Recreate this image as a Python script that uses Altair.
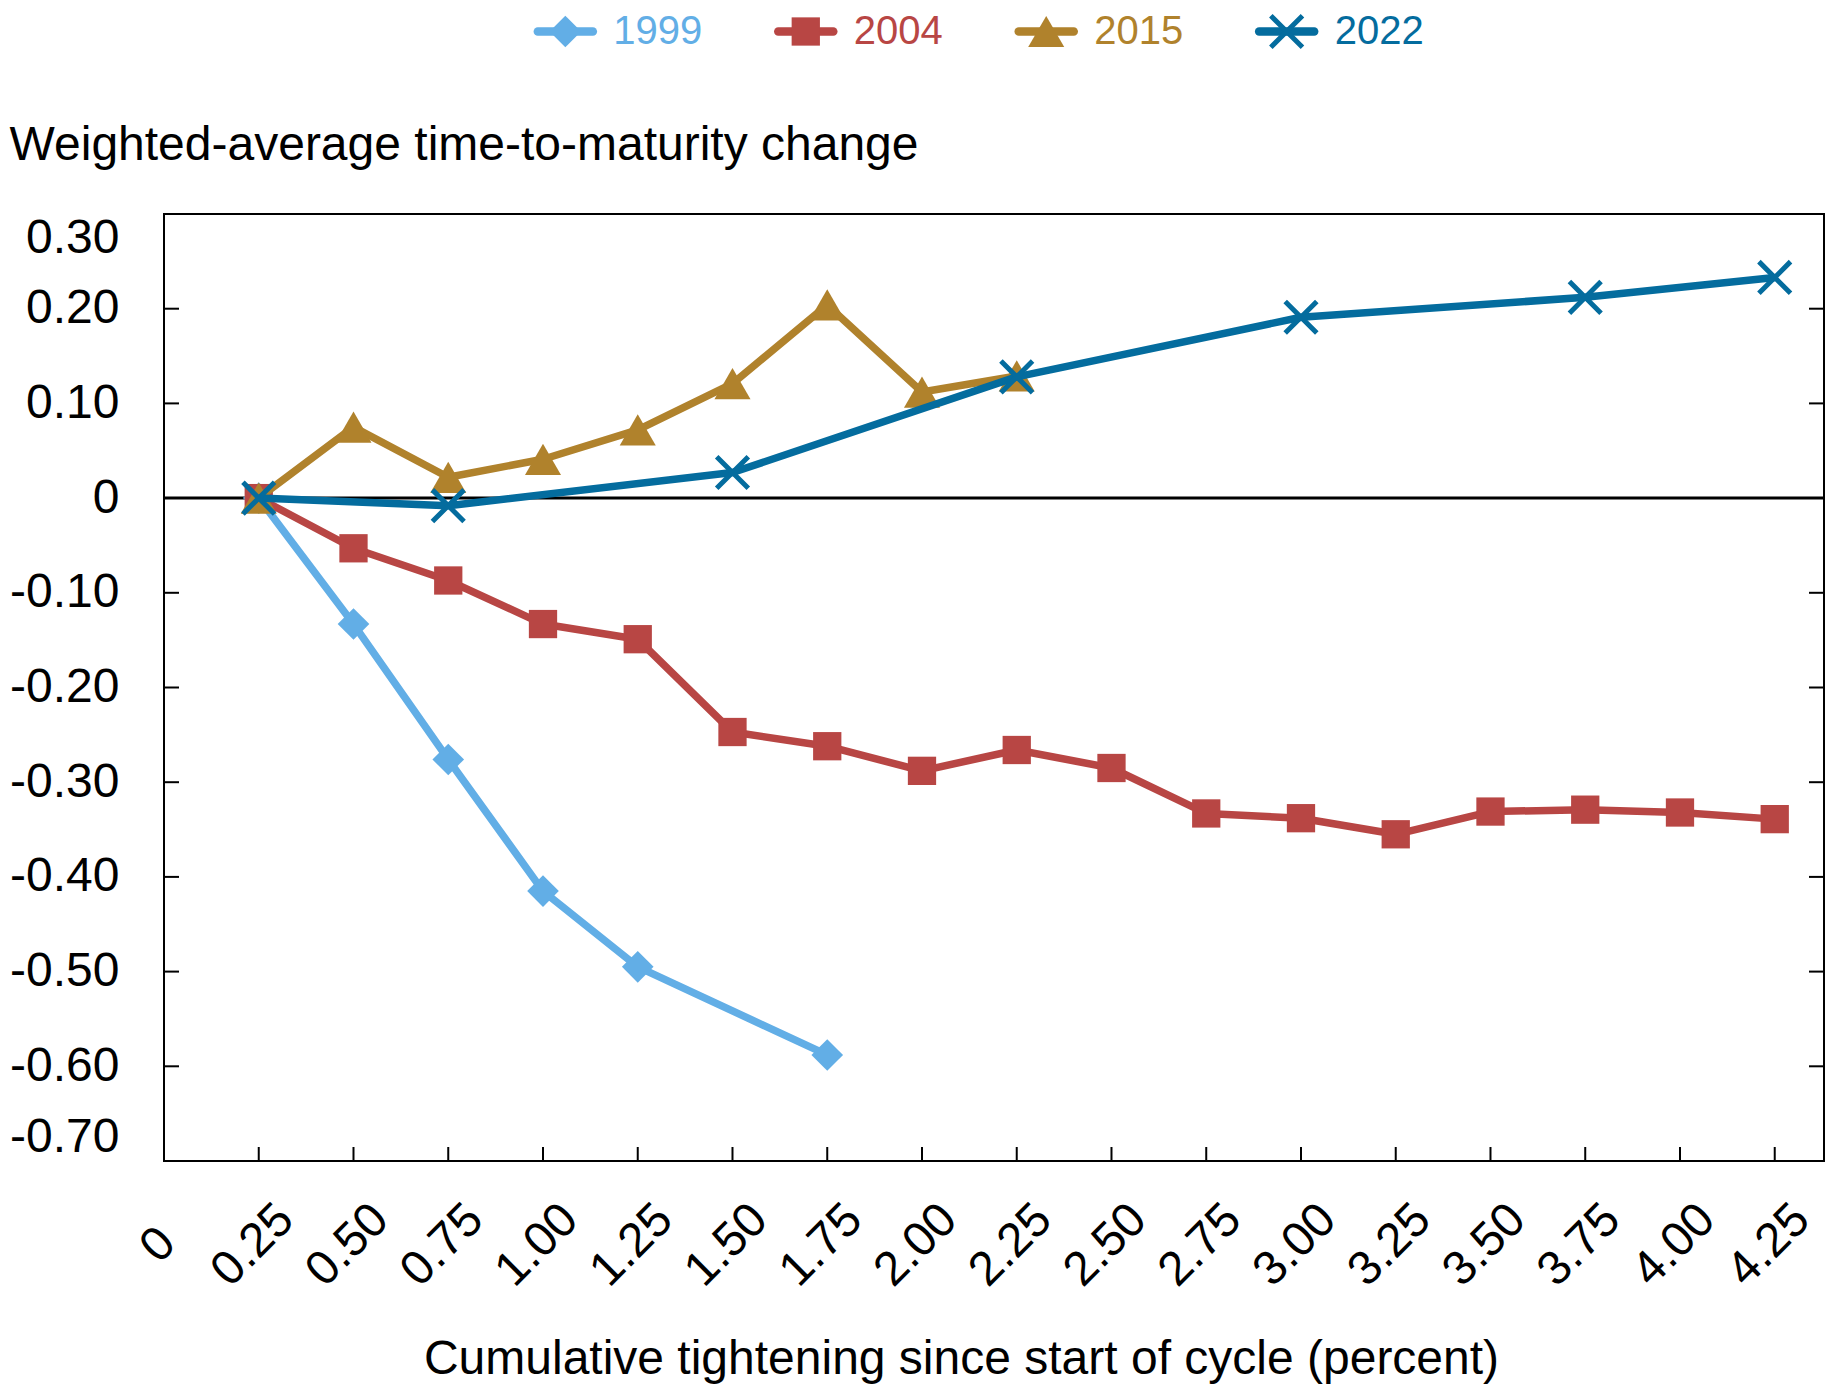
import altair as alt
import pandas as pd

FONT = "Liberation Sans, Arial, Helvetica, sans-serif"

series_names = ["1999", "2004", "2015", "2022"]
series_colors = ["#62AEE6", "#B84644", "#B0822C", "#046C9E"]
legend_rank = [0, 1, 2, 3]

x_1999 = [0.25, 0.50, 0.75, 1.00, 1.25, 1.75]
y_1999 = [0.0, -0.133, -0.276, -0.415, -0.495, -0.588]

x_2004 = [0.25, 0.50, 0.75, 1.00, 1.25, 1.50, 1.75, 2.00, 2.25,
          2.50, 2.75, 3.00, 3.25, 3.50, 3.75, 4.00, 4.25]
y_2004 = [0.0, -0.053, -0.087, -0.133, -0.149, -0.247, -0.262, -0.288, -0.266,
          -0.285, -0.333, -0.338, -0.355, -0.331, -0.329, -0.332, -0.339]

x_2015 = [0.25, 0.50, 0.75, 1.00, 1.25, 1.50, 1.75, 2.00, 2.25]
y_2015 = [0.0, 0.075, 0.022, 0.041, 0.072, 0.121, 0.204, 0.112, 0.129]

x_2022 = [0.25, 0.75, 1.50, 2.25, 3.00, 3.75, 4.25]
y_2022 = [0.0, -0.008, 0.027, 0.128, 0.191, 0.212, 0.233]

x_tick_values = [0, 0.25, 0.5, 0.75, 1.0, 1.25, 1.5, 1.75, 2.0, 2.25,
                 2.5, 2.75, 3.0, 3.25, 3.5, 3.75, 4.0, 4.25]
y_tick_values = [-0.7, -0.6, -0.5, -0.4, -0.3, -0.2, -0.1, 0.0, 0.1, 0.2, 0.3]
x_inner_ticks = x_tick_values[1:]
y_inner_ticks = [0.2, 0.1, -0.1, -0.2, -0.3, -0.4, -0.5, -0.6]

series_x = {"1999": x_1999, "2004": x_2004, "2015": x_2015, "2022": x_2022}
series_y = {"1999": y_1999, "2004": y_2004, "2015": y_2015, "2022": y_2022}

X_PATH = "M-1,-1L1,1M-1,1L1,-1"
marker_shape = {"1999": "diamond", "2004": "square", "2015": "triangle-up", "2022": X_PATH}
marker_size = {"1999": 1000, "2004": 800, "2015": 1300, "2022": 1000}
marker_filled = {"1999": True, "2004": True, "2015": True, "2022": False}

W, H = 1660, 947
FS = 48

LABEL_EXPR = "datum.value == 0 ? '0' : replace(format(datum.value, '.2f'), '\u2212', '-')"

xs = alt.Scale(domain=[0, 4.38], nice=False, zero=False)
ys = alt.Scale(domain=[-0.7, 0.3], nice=False, zero=False)

x_axis = alt.Axis(
    values=x_tick_values, labelExpr=LABEL_EXPR, labelAngle=315,
    labelAlign="center", labelBaseline="middle", labelPadding=84, labelOffset=-6,
    ticks=False, domain=False, grid=False, labelFontSize=FS, labelFont=FONT,
    labelFlush=False, labelOverlap=False, labelColor="black",
    title="Cumulative tightening since start of cycle (percent)",
    titleFontSize=FS, titleFont=FONT, titleFontWeight="normal", titleColor="black",
    titlePadding=40, titleX=797,
)
y_axis = alt.Axis(
    values=y_tick_values, labelExpr=LABEL_EXPR, ticks=False, domain=False, grid=False,
    labelPadding=45, labelFontSize=FS, labelFont=FONT, labelFlush=True,
    labelOverlap=False, labelColor="black", title=None,
)

X = lambda: alt.X("x:Q", scale=xs, axis=x_axis)
Y = lambda: alt.Y("y:Q", scale=ys, axis=y_axis)

layers = []
layers.append(
    alt.Chart(pd.DataFrame({"y": [0.0]})).mark_rule(color="black", strokeWidth=3).encode(y=Y())
)
layers.append(
    alt.Chart(pd.DataFrame({"x": x_inner_ticks})).mark_rule(color="black", strokeWidth=2)
    .encode(x=X(), y=alt.value(H - 14), y2=alt.value(H))
)
layers.append(
    alt.Chart(pd.DataFrame({"y": y_inner_ticks})).mark_rule(color="black", strokeWidth=2)
    .encode(y=Y(), x=alt.value(0), x2=alt.value(15))
)
layers.append(
    alt.Chart(pd.DataFrame({"y": y_inner_ticks})).mark_rule(color="black", strokeWidth=2)
    .encode(y=Y(), x=alt.value(W - 15), x2=alt.value(W))
)

for name, col in zip(series_names, series_colors):
    df = pd.DataFrame({"x": series_x[name], "y": series_y[name]})
    base = alt.Chart(df)
    layers.append(
        base.mark_line(strokeWidth=7.5, color=col, strokeJoin="round").encode(x=X(), y=Y())
    )
    if marker_filled[name]:
        pt = base.mark_point(shape=marker_shape[name], size=marker_size[name],
                             filled=True, opacity=1, color=col)
    else:
        pt = base.mark_point(shape=marker_shape[name], size=marker_size[name],
                             filled=False, opacity=1, color=col, strokeWidth=5)
    layers.append(pt.encode(x=X(), y=Y()))

main = alt.layer(*layers).properties(
    width=W, height=H,
    title=alt.TitleParams(
        text="Weighted-average time-to-maturity change", anchor="start",
        fontSize=FS, font=FONT, fontWeight="normal", color="black", offset=44,
    ),
    view=alt.ViewBackground(stroke="black", strokeWidth=2),
)

# legend row
legend_df = pd.DataFrame({"series": series_names, "rank": legend_rank})
leg_x = alt.X("rank:Q", scale=alt.Scale(domain=[-1.952, 4.952], nice=False, zero=False), axis=None)
leg_layers = []
for name, col in zip(series_names, series_colors):
    src = alt.Chart(legend_df).transform_filter(alt.datum.series == name)
    leg_layers.append(
        src.mark_point(shape="M-1,0L1,0", size=3025, filled=False, strokeWidth=8.5,
                       strokeCap="round", color=col, opacity=1, xOffset=-68).encode(x=leg_x)
    )
    if marker_filled[name]:
        mk = src.mark_point(shape=marker_shape[name], size=marker_size[name], filled=True,
                            color=col, opacity=1, xOffset=-68)
    else:
        mk = src.mark_point(shape=marker_shape[name], size=marker_size[name], filled=False,
                            strokeWidth=5, color=col, opacity=1, xOffset=-68)
    leg_layers.append(mk.encode(x=leg_x))
    leg_layers.append(
        src.mark_text(align="left", baseline="middle", dx=-20, fontSize=40, font=FONT,
                      color=col).encode(x=leg_x, text="series:N")
    )
legend = alt.layer(*leg_layers).properties(width=W, height=37)

chart = (
    alt.vconcat(legend, main, spacing=63)
    .properties(padding={"left": 0, "top": -3, "right": 0, "bottom": 0})
    .configure(font=FONT)
    .configure_view(stroke="transparent")
)

chart.save("out.html", embed_options={"renderer": "svg", "actions": False})
